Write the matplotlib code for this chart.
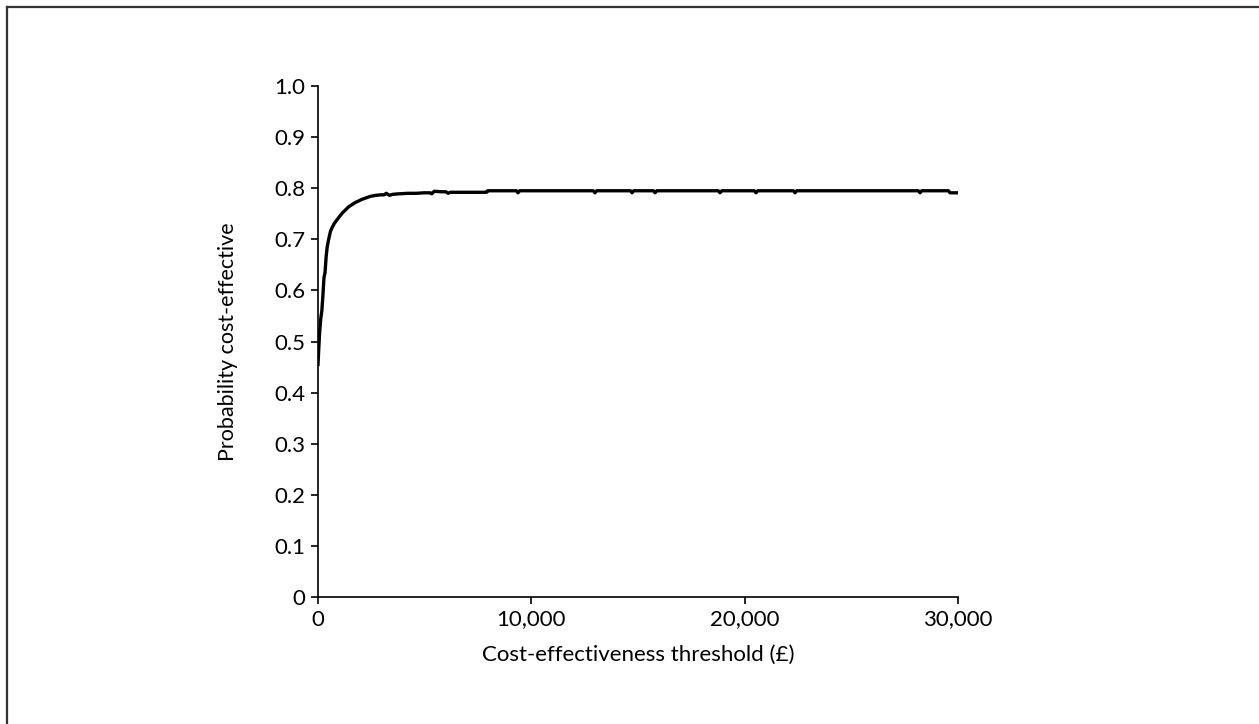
import matplotlib.pyplot as plt
from matplotlib.lines import Line2D

plt.rcParams['font.family'] = ['Lato', 'DejaVu Sans']

# Cost-effectiveness acceptability curve (threshold in GBP, probability)
threshold = [0, 40, 80, 130, 180, 230, 280, 330, 380, 430, 500, 580, 650, 750,
             850, 1000, 1150, 1300, 1450, 1600, 1750, 1900, 2050, 2250, 2450,
             2700, 2950, 3100, 3200, 3350, 3500, 3800, 4200, 4600, 5000,
             5250, 5330, 5450, 5800, 6000, 6094, 6200, 7900, 7950, 9300,
             9375, 9450, 12900, 12980, 13060, 14650, 14720, 14800, 15720,
             15800, 15880, 18760, 18844, 18930, 20450, 20531, 20620, 22280,
             22360, 22440, 28140, 28220, 28300, 29550, 29625, 30000]
prob = [0.455, 0.49, 0.52, 0.545, 0.56, 0.59, 0.625, 0.635, 0.665, 0.685,
        0.70, 0.715, 0.722, 0.730, 0.736, 0.744, 0.752, 0.758, 0.764, 0.768,
        0.772, 0.775, 0.778, 0.781, 0.784, 0.786, 0.787, 0.787, 0.790, 0.786,
        0.788, 0.789, 0.790, 0.790, 0.791, 0.791, 0.789, 0.794, 0.793, 0.793,
        0.790, 0.792, 0.792, 0.795, 0.795, 0.791, 0.795, 0.795, 0.791, 0.795,
        0.795, 0.791, 0.795, 0.795, 0.791, 0.795, 0.795, 0.791, 0.795, 0.795,
        0.791, 0.795, 0.795, 0.791, 0.795, 0.795, 0.791, 0.795, 0.795, 0.791,
        0.791]

x_ticks = [0, 10000, 20000, 30000]
x_labels = ['0', '10,000', '20,000', '30,000']
y_ticks = [0, 0.1, 0.2, 0.3, 0.4, 0.5, 0.6, 0.7, 0.8, 0.9, 1.0]
y_labels = ['0', '0.1', '0.2', '0.3', '0.4', '0.5', '0.6', '0.7', '0.8', '0.9', '1.0']

fig = plt.figure(figsize=(12.59, 7.24), dpi=100)
ax = fig.add_axes([318 / 1259, 1 - 597 / 724, 640 / 1259, 511 / 724])

ax.plot(threshold, prob, color='black', linewidth=2.4)

ax.set_xlim(0, 30000)
ax.set_ylim(0, 1.0)
ax.set_xticks(x_ticks)
ax.set_xticklabels(x_labels)
ax.set_yticks(y_ticks)
ax.set_yticklabels(y_labels)
ax.spines['top'].set_visible(False)
ax.spines['right'].set_visible(False)
for s in ('left', 'bottom'):
    ax.spines[s].set_linewidth(1.2)
ax.tick_params(direction='out', length=5, width=1.2, labelsize=16, pad=4)
ax.set_xlabel('Cost-effectiveness threshold (£)', fontsize=16, labelpad=11)
ax.set_ylabel('Probability cost-effective', fontsize=15.5, labelpad=26)

# partial frame along the top and left edges
fig.add_artist(Line2D([6.5 / 1259, 6.5 / 1259], [0, 1 - 6.5 / 724],
                      transform=fig.transFigure, color='#333333', linewidth=1.6))
fig.add_artist(Line2D([6.5 / 1259, 1], [1 - 6.5 / 724, 1 - 6.5 / 724],
                      transform=fig.transFigure, color='#333333', linewidth=1.6))

fig.savefig('out.png', dpi=100)
